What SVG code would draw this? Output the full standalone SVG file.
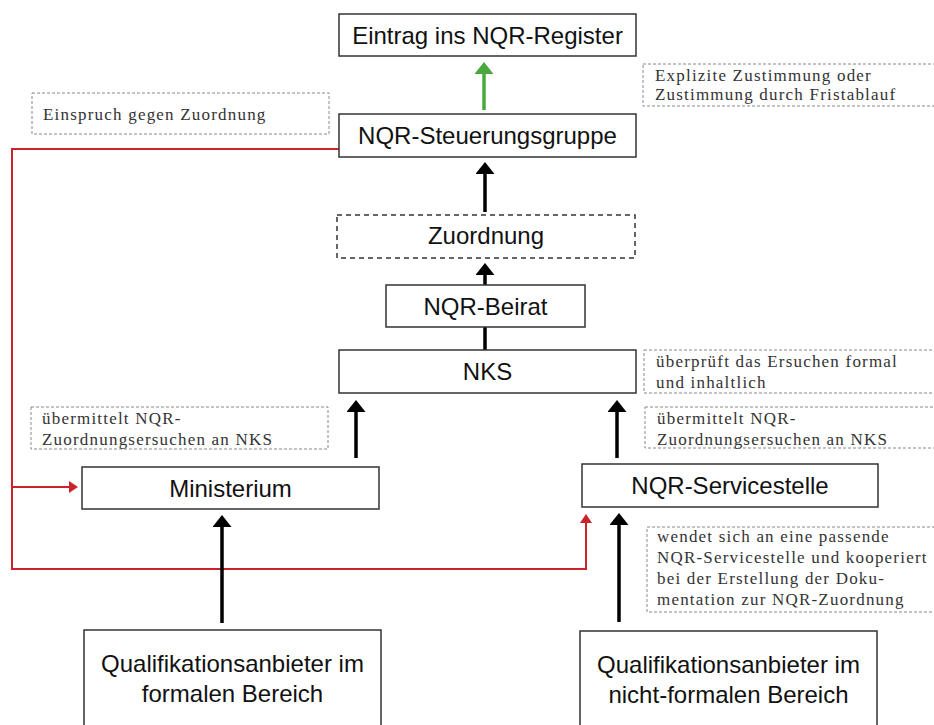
<svg xmlns="http://www.w3.org/2000/svg" width="934" height="725" viewBox="0 0 934 725">
<style>
.box{fill:#fff;stroke:#333;stroke-width:1.5}
.dbox{fill:#fff;stroke:#333;stroke-width:1.5;stroke-dasharray:5 4}
.note{fill:none;stroke:#888;stroke-width:1;stroke-dasharray:3 2}
.lbl{font-family:"Liberation Sans",Arial,sans-serif;font-size:24px;fill:#111;text-anchor:middle}
.ntxt{font-family:"Liberation Serif","Times New Roman",serif;font-size:17px;fill:#333;letter-spacing:1.2px}
.blk{stroke:#000;stroke-width:3.5;fill:none}
.grn{stroke:#4aa83f;stroke-width:3.5;fill:none}
.red{stroke:#cc2229;stroke-width:2;fill:none}
</style>
<defs>
<marker id="ab" viewBox="0 0 12 19" refX="0" refY="9.5" markerWidth="12" markerHeight="19" markerUnits="userSpaceOnUse" orient="auto"><path d="M0,0 L12,9.5 L0,19 z" fill="#000"/></marker>
<marker id="ag" viewBox="0 0 12 19" refX="0" refY="9.5" markerWidth="12" markerHeight="19" markerUnits="userSpaceOnUse" orient="auto"><path d="M0,0 L12,9.5 L0,19 z" fill="#4aa83f"/></marker>
<marker id="ar" viewBox="0 0 9 12" refX="0" refY="6" markerWidth="9" markerHeight="12" markerUnits="userSpaceOnUse" orient="auto"><path d="M0,0 L9,6 L0,12 z" fill="#cc2229"/></marker>
</defs>
<rect width="934" height="725" fill="#fff"/>

<g id="notes">
<g id="n-einspruch"><rect class="note" x="32" y="93" width="297" height="41"/><text class="ntxt" x="43" y="120">Einspruch gegen Zuordnung</text></g>
<g id="n-explizit"><rect class="note" x="643" y="64" width="300" height="42"/><text class="ntxt" x="655" y="81">Explizite Zustimmung oder</text><text class="ntxt" x="655" y="100">Zustimmung durch Fristablauf</text></g>
<g id="n-pruef"><rect class="note" x="644" y="350" width="300" height="43"/><text class="ntxt" x="656" y="367">überprüft das Ersuchen formal</text><text class="ntxt" x="656" y="388">und inhaltlich</text></g>
<g id="n-uebL"><rect class="note" x="31" y="407" width="297" height="42"/><text class="ntxt" x="42" y="424">übermittelt NQR-</text><text class="ntxt" x="42" y="445">Zuordnungsersuchen an NKS</text></g>
<g id="n-uebR"><rect class="note" x="645" y="407" width="300" height="41"/><text class="ntxt" x="657" y="424">übermittelt NQR-</text><text class="ntxt" x="657" y="445">Zuordnungsersuchen an NKS</text></g>
<g id="n-wendet"><rect class="note" x="647" y="527" width="300" height="85"/><text class="ntxt" x="657" y="542">wendet sich an eine passende</text><text class="ntxt" x="657" y="563">NQR-Servicestelle und kooperiert</text><text class="ntxt" x="657" y="584">bei der Erstellung der Doku-</text><text class="ntxt" x="657" y="605">mentation zur NQR-Zuordnung</text></g>
</g>

<g id="connectors">
<path class="red" d="M339,149 H12 V569 H586 V523" marker-end="url(#ar)"/>
<path class="red" d="M12,487 H69" marker-end="url(#ar)"/>
<line class="grn" x1="484" y1="110" x2="484" y2="74" marker-end="url(#ag)"/>
<line class="blk" x1="485" y1="212" x2="485" y2="174" marker-end="url(#ab)"/>
<line class="blk" x1="485" y1="285" x2="485" y2="275" marker-end="url(#ab)"/>
<line class="blk" x1="485" y1="327" x2="485" y2="350"/>
<line class="blk" x1="356" y1="458" x2="356" y2="412" marker-end="url(#ab)"/>
<line class="blk" x1="617" y1="458" x2="617" y2="412" marker-end="url(#ab)"/>
<line class="blk" x1="222" y1="623" x2="222" y2="527" marker-end="url(#ab)"/>
<line class="blk" x1="619" y1="622" x2="619" y2="525" marker-end="url(#ab)"/>
</g>

<g id="eintrag"><rect class="box" x="339" y="14" width="297" height="42"/><text class="lbl" x="487.5" y="43.5">Eintrag ins NQR-Register</text></g>
<g id="steuerung"><rect class="box" x="339" y="114" width="297" height="43"/><text class="lbl" x="487.5" y="144">NQR-Steuerungsgruppe</text></g>
<g id="zuordnung"><rect class="dbox" x="337" y="215" width="298" height="43"/><text class="lbl" x="486" y="244">Zuordnung</text></g>
<g id="beirat"><rect class="box" x="386" y="285" width="199" height="42"/><text class="lbl" x="485.5" y="314.5">NQR-Beirat</text></g>
<g id="nks"><rect class="box" x="339" y="350" width="297" height="43"/><text class="lbl" x="487.5" y="379.5">NKS</text></g>
<g id="ministerium"><rect class="box" x="82" y="467" width="297" height="42"/><text class="lbl" x="230.5" y="496.5">Ministerium</text></g>
<g id="servicestelle"><rect class="box" x="582" y="464" width="296" height="43"/><text class="lbl" x="730" y="494">NQR-Servicestelle</text></g>
<g id="qa-formal"><rect class="box" x="84" y="630" width="297" height="110"/><text class="lbl" x="232.5" y="672">Qualifikationsanbieter im</text><text class="lbl" x="232.5" y="702">formalen Bereich</text></g>
<g id="qa-nichtformal"><rect class="box" x="580" y="631" width="297" height="110"/><text class="lbl" x="728.5" y="673">Qualifikationsanbieter im</text><text class="lbl" x="728.5" y="703">nicht-formalen Bereich</text></g>
</svg>
